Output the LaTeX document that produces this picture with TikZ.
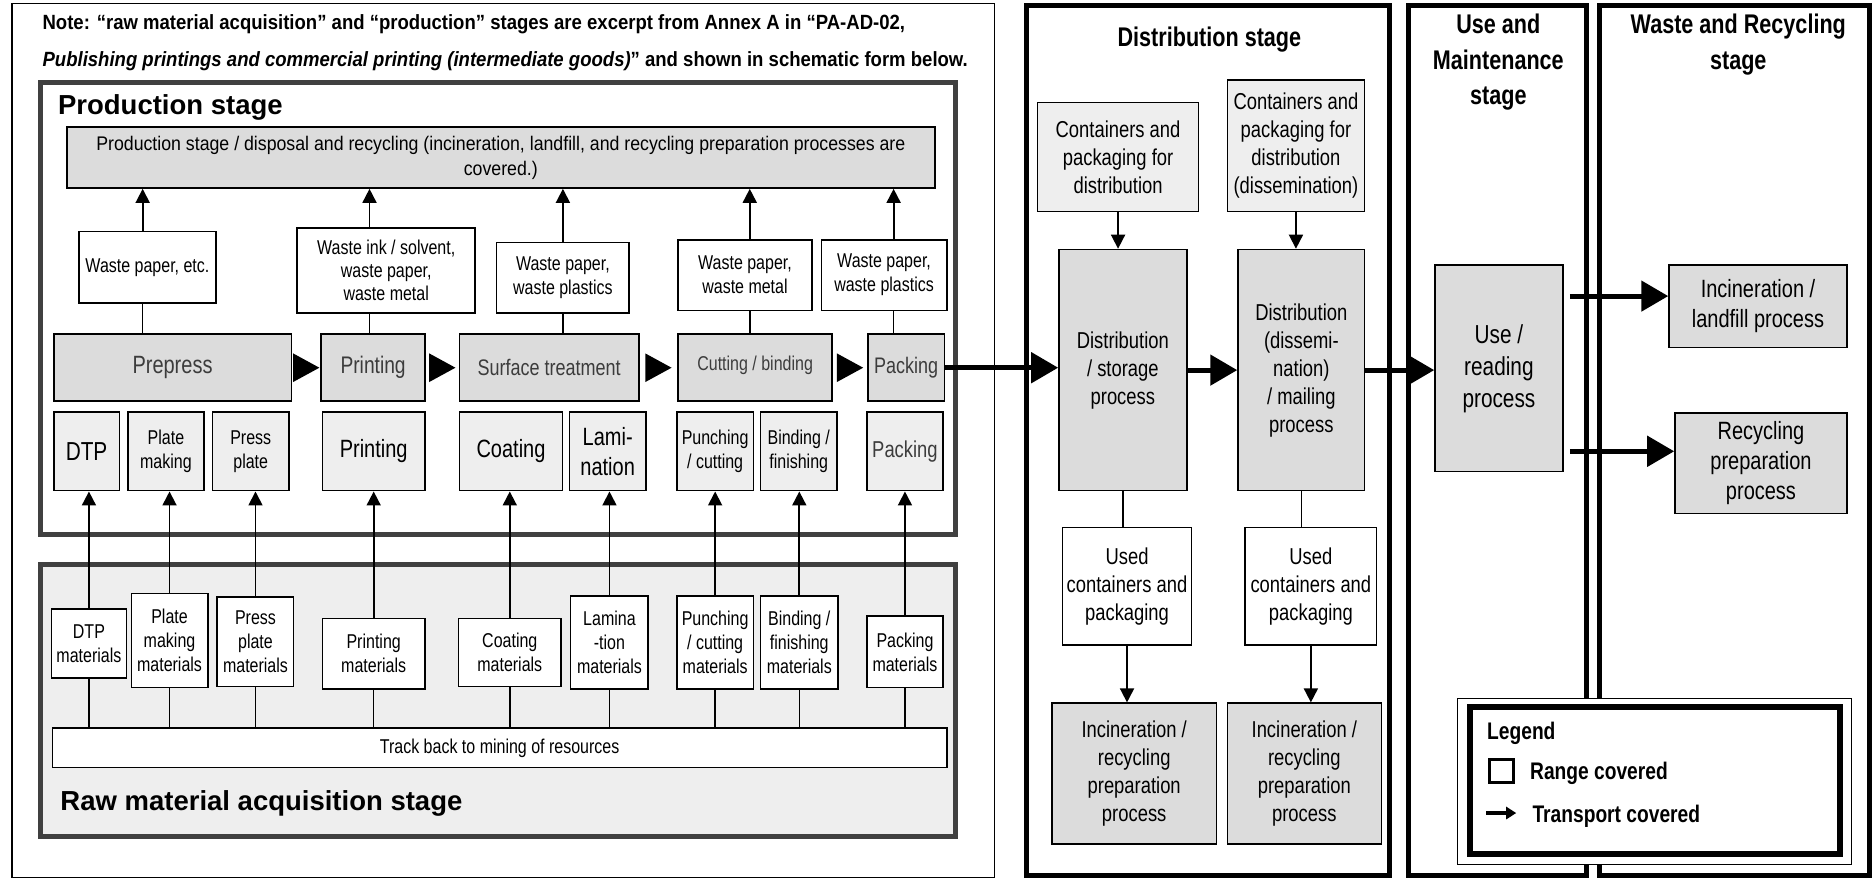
\documentclass[tikz,border=0pt]{standalone}
\usepackage{fontspec}
\setmainfont{Liberation Sans}
\newfontfamily\narrowsf{Liberation Sans}[FakeStretch=0.8]
\newfontfamily\semisf{Liberation Sans}[FakeStretch=0.9]
\usetikzlibrary{arrows.meta,calc}

\definecolor{procgray}{RGB}{220,220,220}
\definecolor{subgray}{RGB}{238,238,238}
\definecolor{framegray}{RGB}{64,64,64}
\definecolor{proctext}{RGB}{60,60,60}

\tikzset{
  every picture/.style={line width=1.6pt},
  boxsize/.style 2 args={minimum width=#1*1.194pt, minimum height=#2*1.194pt},
  basebox/.style={draw, line width=1.6pt, inner sep=0pt, align=center, font=\narrowsf\fontsize{20}{24}\selectfont},
  wastebox/.style={basebox, fill=white},
  procbox/.style={basebox, fill=procgray, text=proctext},
  subbox/.style={basebox, fill=subgray},
  matbox/.style={basebox, fill=white},
  distbox/.style={basebox, fill=procgray, font=\narrowsf\fontsize{23}{28}\selectfont},
  contbox/.style={distbox, fill=subgray},
  usedbox/.style={distbox, fill=white},
  stagetitle/.style={font=\narrowsf\bfseries\fontsize{27}{36}\selectfont, align=center, inner sep=0pt},
  bigtitle/.style={font=\bfseries\fontsize{27.5}{30}\selectfont, anchor=west, inner sep=0pt},
  notetext/.style={font=\semisf\bfseries\fontsize{20.6}{23}\selectfont, anchor=west, inner sep=0pt},
  legtext/.style={font=\narrowsf\bfseries\fontsize{24}{28}\selectfont, anchor=west, inner sep=0pt},
  thinarrow/.style={-{Triangle[length=14pt,width=14pt]}, line width=1.8pt},
  bigarrow/.style={-{Triangle[length=27pt,width=30pt]}, line width=5pt},
  plainline/.style={line width=1.5pt},
  stageframe/.style={draw, line width=5pt},
  partframe/.style={draw=framegray, line width=5pt},
}

\begin{document}
\begin{tikzpicture}[x=1.194pt,y=-1.194pt]
  \useasboundingbox (0,0) rectangle (1568,737);

  % frames
  \draw[line width=1.5pt] (10,3) rectangle (833,735);
  \draw[partframe, fill=white] (34,69) rectangle (800,448);
  \draw[partframe, fill=subgray] (34,473) rectangle (800,700.5);
  \draw[stageframe] (860,5) rectangle (1164,733);
  \draw[stageframe] (1179.5,5) rectangle (1329,733);
  \draw[stageframe] (1340,5) rectangle (1566,733);

  % note
  \node[notetext] (note1) at (35,20) {Note: “raw material acquisition” and “production” stages are excerpt from Annex A in “PA-AD-02,};
  \node[notetext] (note2) at (35,51) {\itshape Publishing printings and commercial printing (intermediate goods)\upshape” and shown in schematic form below.};

  % production stage
  \node[bigtitle] (prodtitle) at (48,90) {Production stage};
  \node[basebox, fill=procgray, font=\semisf\fontsize{19.7}{25}\selectfont, boxsize={727}{51}] (top) at (419.5,132) {Production stage / disposal and recycling (incineration, landfill, and recycling preparation processes are\\covered.)};

  \node[wastebox, boxsize={115}{60}] (w1) at (123.5,224) {Waste paper, etc.};
  \node[wastebox, boxsize={149}{71}, font=\narrowsf\fontsize{20}{23}\selectfont] (w2) at (323.5,226.5) {Waste ink / solvent,\\waste paper,\\waste metal};
  \node[wastebox, boxsize={111}{59}] (w3) at (471.5,232.5) {Waste paper,\\waste plastics};
  \node[wastebox, boxsize={112}{59}] (w4) at (624,230.5) {Waste paper,\\waste metal};
  \node[wastebox, boxsize={105}{59}] (w5) at (740.5,230.5) {Waste paper,\\waste plastics};

  \node[procbox, boxsize={199}{56}, font=\narrowsf\fontsize{25}{28}\selectfont] (pre) at (144.5,308) {Prepress};
  \node[procbox, boxsize={87}{56}, font=\narrowsf\fontsize{24}{28}\selectfont] (prt) at (312.5,308) {Printing};
  \node[procbox, boxsize={150}{56}, font=\narrowsf\fontsize{22.5}{26}\selectfont] (srf) at (460,308) {Surface treatment};
  \node[procbox, boxsize={129}{56}] (cut) at (632.5,308) {\raisebox{9pt}{Cutting / binding}};
  \node[procbox, boxsize={64}{56}, font=\narrowsf\fontsize{22.5}{26}\selectfont] (pck) at (759,308) {Packing};

  \node[subbox, boxsize={55}{66}, font=\narrowsf\fontsize{26}{30}\selectfont] (sdtp) at (72.5,378) {DTP};
  \node[subbox, boxsize={64}{66}] (splate) at (139,378) {Plate\\making};
  \node[subbox, boxsize={64}{66}] (spress) at (210,378) {Press\\plate};
  \node[subbox, boxsize={86}{66}, font=\narrowsf\fontsize{25}{30}\selectfont] (sprint) at (313,378) {Printing};
  \node[subbox, boxsize={86}{66}, font=\narrowsf\fontsize{25}{30}\selectfont] (scoat) at (428,378) {Coating};
  \node[subbox, boxsize={64}{66}, font=\narrowsf\fontsize{25}{30}\selectfont] (slami) at (509,378) {Lami-\\nation};
  \node[subbox, boxsize={64}{66}] (spunch) at (599,378) {Punching\\/ cutting};
  \node[subbox, boxsize={64}{66}] (sbind) at (669,378) {Binding /\\finishing};
  \node[subbox, boxsize={64}{66}, text=proctext, font=\narrowsf\fontsize{23}{28}\selectfont] (spack) at (758,378) {Packing};

  % raw material acquisition stage
  \node[matbox, boxsize={63}{58}] (mdtp) at (74.5,539) {DTP\\materials};
  \node[matbox, boxsize={64}{79}] (mplate) at (142,536.5) {Plate\\making\\materials};
  \node[matbox, boxsize={64}{75}] (mpress) at (214,537.5) {Press\\plate\\materials};
  \node[matbox, boxsize={86}{59}] (mprint) at (313,547.5) {Printing\\materials};
  \node[matbox, boxsize={86}{57}] (mcoat) at (427,546.5) {Coating\\materials};
  \node[matbox, boxsize={65}{78}] (mlami) at (510.5,538) {Lamina\\-tion\\materials};
  \node[matbox, boxsize={64}{78}] (mpunch) at (599,538) {Punching\\/ cutting\\materials};
  \node[matbox, boxsize={65}{78}] (mbind) at (669.5,538) {Binding /\\finishing\\materials};
  \node[matbox, boxsize={64}{60}] (mpack) at (758,546) {Packing\\materials};
  \node[matbox, boxsize={749}{33}] (track) at (418.5,626.5) {Track back to mining of resources};
  \node[bigtitle] (rawtitle) at (50,673) {Raw material acquisition stage};

  \foreach \w/\p/\dx in {w1/pre/-4, w2/prt/-14, w3/srf/0, w4/cut/4, w5/pck/8} {
    \draw[thinarrow] ([xshift=\dx*1.194pt]\w.north) -- ([xshift=\dx*1.194pt]\w.north |- top.south);
    \draw[plainline] ([xshift=\dx*1.194pt]\w.south) -- ([xshift=\dx*1.194pt]\w.south |- \p.north);
  }
  \foreach \m/\s in {mdtp/sdtp, mplate/splate, mpress/spress, mprint/sprint, mcoat/scoat, mlami/slami, mpunch/spunch, mbind/sbind, mpack/spack} {
    \draw[thinarrow] (\m.north) -- (\m.north |- \s.south);
    \draw[plainline] (\m.south) -- (\m.south |- track.north);
  }
  \foreach \a/\b in {pre/prt, prt/srf, srf/cut, cut/pck}
    \fill ($(\a.east)!0.5!(\b.west)$) ++(-11,-12) -- ++(22,12) -- ++(-22,12) -- cycle;

  % distribution stage
  \node[stagetitle] (disttitle) at (1013,33) {Distribution stage};
  \node[contbox, boxsize={135}{91}] (cont1) at (936.5,131.5) {Containers and\\packaging for\\distribution};
  \node[contbox, boxsize={115}{110}] (cont2) at (1085.5,122) {Containers and\\packaging for\\distribution\\(dissemination)};
  \node[distbox, boxsize={107}{202}] (dist1) at (940.5,310) {Distribution\\/ storage\\process};
  \node[distbox, boxsize={106}{202}] (dist2) at (1090,310) {Distribution\\(dissemi-\\nation)\\/ mailing\\process};
  \node[usedbox, boxsize={108}{98}] (used1) at (944,491) {Used\\containers and\\packaging};
  \node[usedbox, boxsize={110}{98}] (used2) at (1098,491) {Used\\containers and\\packaging};
  \node[distbox, boxsize={138}{118}] (inc1) at (950,648) {Incineration /\\recycling\\preparation\\process};
  \node[distbox, boxsize={129}{118}] (inc2) at (1092.5,648) {Incineration /\\recycling\\preparation\\process};

  \foreach \c/\d/\u/\i in {cont1/dist1/used1/inc1, cont2/dist2/used2/inc2} {
    \draw[thinarrow] (\c.south) -- (\c.south |- \d.north);
    \draw[plainline] (\d.south) -- (\d.south |- \u.north);
    \draw[thinarrow] (\u.south) -- (\u.south |- \i.north);
  }

  % use and maintenance stage
  \node[stagetitle] (usetitle) at (1255,52) {Use and\\Maintenance\\stage};
  \node[distbox, boxsize={107}{173}, font=\narrowsf\fontsize{26}{32}\selectfont] (use) at (1255.5,308.5) {Use /\\reading\\process};

  % waste and recycling stage
  \node[stagetitle] (wastetitle) at (1456,37) {Waste and Recycling\\stage};
  \node[distbox, boxsize={149}{69}, font=\narrowsf\fontsize{25}{30}\selectfont] (incl) at (1472.5,256.5) {Incineration /\\landfill process};
  \node[distbox, boxsize={144}{84}, font=\narrowsf\fontsize{25}{30}\selectfont] (recy) at (1475,388) {Recycling\\preparation\\process};

  % transport
  \coordinate (arrhi) at (1315,248);
  \coordinate (arrlo) at (1315,378);
  \draw[bigarrow] (pck.east) -- (pck.east -| dist1.west);
  \draw[bigarrow] (dist1.east) -- (dist2.west);
  \draw[bigarrow] (dist2.east) -- (dist2.east -| use.west);
  \draw[bigarrow] (arrhi) -- (arrhi -| incl.west);
  \draw[bigarrow] (arrlo) -- (arrlo -| recy.west);

  % legend
  \draw[line width=1.2pt, fill=white] (1221,585) rectangle (1551,724);
  \draw[line width=6pt] (1231.5,592.5) rectangle (1541.5,715.5);
  \node[legtext] (legtitle) at (1245,614) {Legend};
  \node[draw, line width=3pt, boxsize={20.5}{19}] (legsq) at (1257.5,646) {};
  \node[legtext] (legrange) at (1281,648) {Range covered};
  \coordinate (legarr) at (1245,681);
  \draw[-{Triangle[length=10pt,width=12pt]}, line width=3.5pt] (legarr) -- ++(25,0);
  \node[legtext] (legtrans) at (1283,684) {Transport covered};
\end{tikzpicture}
\end{document}
